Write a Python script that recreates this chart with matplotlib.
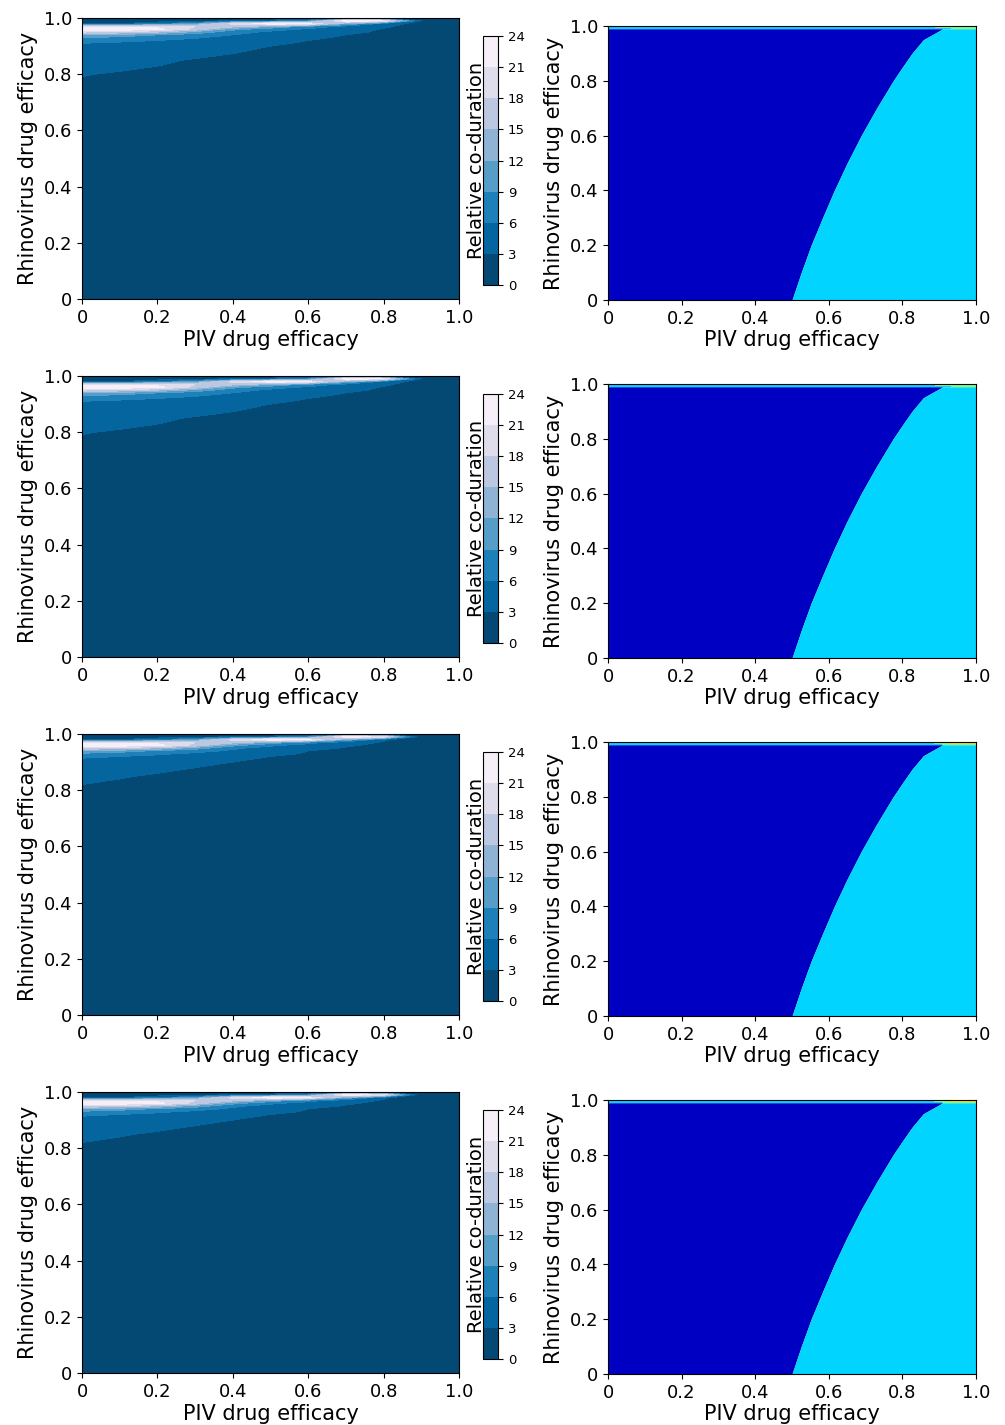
import numpy as np
import matplotlib.pyplot as plt

# ==========================================
# 1. DATA
# ==========================================
piv_grid = [0.0, 0.1, 0.2, 0.3, 0.4, 0.5, 0.6, 0.7, 0.8, 0.9, 1.0]
rhino_grid = [0.0, 0.7, 0.8, 0.85, 0.9, 0.91, 0.92, 0.93, 0.94,
              0.95, 0.96, 0.97, 0.98, 0.99, 1.0]

# relative co-duration, rows follow rhino_grid (bottom -> top)
coduration_a = [
    [0, 0, 0, 0, 0, 0, 0, 0, 0, 0, 0],
    [2.0, 1.8, 1.6, 1.4, 1.2, 1.0, 0.8, 0.6, 0.4, 0.2, 0.1],
    [3.1, 2.8, 2.6, 2.3, 2.0, 1.7, 1.4, 1.1, 0.8, 0.3, 0.1],
    [4.2, 3.8, 3.3, 2.85, 2.5, 2.2, 1.8, 1.4, 1.0, 0.4, 0.1],
    [5.5, 5.0, 4.6, 4.2, 3.6, 3.0, 2.4, 1.9, 1.4, 0.5, 0.2],
    [6.0, 5.6, 5.2, 4.8, 4.0, 3.4, 2.7, 2.1, 1.6, 0.6, 0.2],
    [7.0, 6.5, 6.0, 5.4, 4.6, 3.8, 3.0, 2.4, 1.8, 0.7, 0.2],
    [9.0, 8.0, 7.0, 6.2, 5.2, 4.3, 3.4, 2.7, 2.0, 0.8, 0.2],
    [12.0, 11.0, 9.0, 7.5, 6.0, 4.8, 3.8, 3.0, 2.3, 0.9, 0.2],
    [18.0, 17.0, 15.0, 11.0, 7.0, 5.5, 4.5, 3.6, 2.6, 1.0, 0.2],
    [23.5, 23.0, 22.0, 17.0, 10.0, 7.0, 5.5, 4.2, 2.8, 1.2, 0.3],
    [20.0, 20.0, 20.0, 18.0, 16.0, 12.0, 8.0, 5.0, 3.5, 1.5, 0.3],
    [2.5, 3.0, 5.0, 10.0, 19.0, 23.0, 22.0, 12.0, 5.0, 1.5, 0.5],
    [1.0, 1.0, 1.5, 2.0, 2.5, 4.0, 8.0, 23.0, 21.0, 3.0, 0.5],
    [0, 0, 0, 0, 0, 0, 0, 0, 0, 0, 0],
]

coduration_b = [
    [0, 0, 0, 0, 0, 0, 0, 0, 0, 0, 0],
    [1.6, 1.4, 1.2, 1.0, 0.9, 0.8, 0.6, 0.5, 0.3, 0.2, 0.1],
    [2.7, 2.4, 2.1, 1.8, 1.6, 1.3, 1.0, 0.8, 0.6, 0.3, 0.1],
    [3.45, 3.15, 2.8, 2.3, 2.0, 1.7, 1.4, 1.1, 0.8, 0.35, 0.1],
    [5.0, 4.5, 3.8, 3.47, 3.0, 2.5, 2.0, 1.6, 1.2, 0.45, 0.15],
    [5.6, 5.1, 4.5, 3.9, 3.3, 2.7, 2.2, 1.8, 1.4, 0.5, 0.2],
    [6.6, 6.0, 5.3, 4.5, 3.8, 3.0, 2.5, 2.0, 1.6, 0.6, 0.2],
    [8.5, 7.5, 6.5, 5.5, 4.5, 3.6, 2.8, 2.3, 1.8, 0.7, 0.2],
    [11.5, 10.5, 8.5, 7.0, 5.5, 4.3, 3.0, 2.5, 2.0, 0.8, 0.2],
    [17.5, 16.5, 14.5, 10.5, 6.5, 5.0, 4.0, 2.8, 2.2, 0.9, 0.2],
    [23.5, 23.0, 22.0, 17.0, 10.0, 6.5, 5.0, 3.3, 2.5, 1.0, 0.3],
    [20.0, 20.0, 20.0, 18.0, 16.0, 11.0, 7.0, 4.5, 2.7, 1.2, 0.3],
    [2.5, 3.0, 5.0, 10.0, 19.0, 23.0, 22.0, 11.0, 3.4, 1.3, 0.4],
    [1.0, 1.0, 1.5, 2.0, 2.5, 4.0, 8.0, 23.0, 20.0, 0.5, 0.4],
    [0, 0, 0, 0, 0, 0, 0, 0, 0, 0, 0],
]
panel_coduration = [coduration_a, coduration_a, coduration_b, coduration_b]

# regime boundary (right panels): PIV efficacy where regime switches
bound_rhino = [0.0, 0.1, 0.2, 0.3, 0.4, 0.5, 0.6, 0.7, 0.8, 0.85, 0.9, 0.95, 0.99]
bound_piv = [0.50, 0.525, 0.552, 0.583, 0.615, 0.65, 0.688, 0.73, 0.775,
             0.80, 0.826, 0.857, 0.91]

# thin top strip (rhino 0.99 -> 1.0), regime codes
strip_piv = [0.0, 0.88, 0.91, 0.94, 1.0]
strip_bottom = [0, 0, 1, 1, 1]
strip_top = [[2, 2, 2.6, 3, 3], [2, 2, 2.6, 3, 3], [2, 2, 3, 4, 4], [2, 2, 3, 4, 4]]

regime_colors = ['#0000c2', '#00d4ff', '#7dff7a', '#ffd800', '#b80000']
regime_levels = [-0.5, 0.5, 1.5, 2.5, 3.5, 4.5]

cod_levels = np.arange(0, 25, 3)
ticks = [0, 0.2, 0.4, 0.6, 0.8, 1.0]
tick_labels = ['0', '0.2', '0.4', '0.6', '0.8', '1.0']

# ==========================================
# 2. FIGURE
# ==========================================
W, H = 1005, 1425
fig = plt.figure(figsize=(W / 100, H / 100), dpi=100)


def px_axes(x0, y0, x1, y1):
    return fig.add_axes([x0 / W, 1 - y1 / H, (x1 - x0) / W, (y1 - y0) / H])


def style(ax):
    ax.set_xlim(0, 1)
    ax.set_ylim(0, 1)
    ax.set_xticks(ticks)
    ax.set_xticklabels(tick_labels)
    ax.set_yticks(ticks)
    ax.set_yticklabels(tick_labels)
    ax.tick_params(labelsize=13)
    ax.set_xlabel('PIV drug efficacy', fontsize=15, labelpad=2)
    ax.set_ylabel('Rhinovirus drug efficacy', fontsize=15, labelpad=4)


for r in range(4):
    dy = 358 * r

    # --- left: relative co-duration ---
    ax = px_axes(82, 18 + dy, 459, 299 + dy)
    cs = ax.contourf(piv_grid, rhino_grid, np.array(panel_coduration[r]),
                     levels=cod_levels, cmap='PuBu_r')
    style(ax)

    cax = px_axes(483, 36 + dy, 498, 285 + dy)
    cb = fig.colorbar(cs, cax=cax, ticks=cod_levels)
    cb.ax.tick_params(labelsize=9.5)
    cb.ax.yaxis.set_label_position('left')
    cb.set_label('Relative co-duration', fontsize=14, labelpad=-2)

    # --- right: regime map ---
    ax2 = px_axes(608, 26 + dy, 976, 300 + dy)
    ax2.fill_betweenx(bound_rhino, 0, bound_piv, color=regime_colors[0], lw=0)
    ax2.fill_betweenx(bound_rhino, bound_piv, 1, color=regime_colors[1], lw=0)
    ax2.contourf(strip_piv, [0.99, 1.0], np.array([strip_bottom, strip_top[r]]),
                 levels=regime_levels, colors=regime_colors)
    style(ax2)

plt.savefig('out.png', dpi=100)
